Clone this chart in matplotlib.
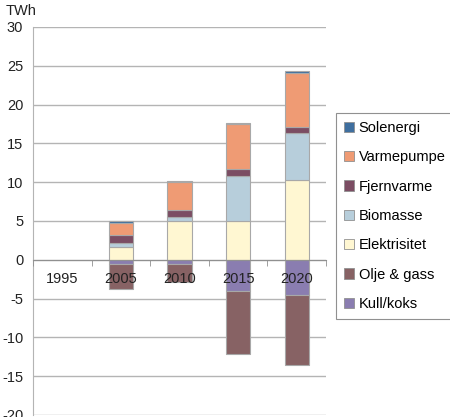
import numpy as np
import matplotlib
matplotlib.use('Agg')
import matplotlib.pyplot as plt
from matplotlib.patches import Patch

plt.rcParams['font.family'] = ['Liberation Sans', 'DejaVu Sans']
plt.rcParams['axes.unicode_minus'] = False

years = ['1995', '2005', '2010', '2015', '2020']

# positive contributions (TWh), stacked from bottom
elektrisitet = [0, 1.7, 5.0, 5.05, 10.3]
biomasse = [0, 0.5, 0.5, 5.8, 6.1]
fjernvarme = [0, 1.0, 0.95, 0.85, 0.7]
varmepumpe = [0, 1.6, 3.6, 5.8, 7.0]
solenergi = [0, 0.15, 0.08, 0.15, 0.25]

# negative contributions, stacked downwards from zero
kull_koks = [0, -0.5, -0.5, -4.0, -4.55]
olje_gass = [0, -3.3, -2.4, -8.2, -9.0]

farger = {
    'Solenergi': '#3f6f9f',
    'Varmepumpe': '#ef9b74',
    'Fjernvarme': '#7b4d63',
    'Biomasse': '#b7cedb',
    'Elektrisitet': '#fff7d2',
    'Olje & gass': '#876264',
    'Kull/koks': '#8a7db0',
}

fig = plt.figure(figsize=(4.5, 4.17), dpi=100)
ax = fig.add_axes([33/450, 2/417, (326-33)/450, (415-27)/417])

x = np.arange(len(years))
w = 0.41
kant = '#a8a8a8'

def stable(lag):
    bunn = np.zeros(len(years))
    for navn, v in lag:
        v = np.array(v, dtype=float)
        lw = np.where(v == 0, 0, 0.8)
        ax.bar(x, v, w, bottom=bunn, color=farger[navn], edgecolor=kant, linewidth=lw, zorder=3)
        bunn += v

stable([('Elektrisitet', elektrisitet), ('Biomasse', biomasse), ('Fjernvarme', fjernvarme),
        ('Varmepumpe', varmepumpe), ('Solenergi', solenergi)])
stable([('Kull/koks', kull_koks), ('Olje & gass', olje_gass)])

ax.set_xlim(-0.5, 4.5)
ax.set_ylim(-20, 30)
ax.set_yticks(range(-20, 31, 5))
ax.grid(axis='y', color='#b4b4b4', linewidth=1)
ax.set_axisbelow(True)

for s in ['top', 'right']:
    ax.spines[s].set_visible(False)
ax.spines['left'].set_color('#b4b4b4')
ax.spines['bottom'].set_position(('data', 0))
ax.spines['bottom'].set_color('#909090')
ax.spines['bottom'].set_zorder(4)

ax.set_xticks(x)
ax.set_xticklabels(years)
ax.set_xticks(np.arange(-0.5, 4.6, 1), minor=True)
ax.tick_params(axis='x', which='major', length=0, pad=9, labelsize=10.5, colors='#222222')
ax.tick_params(axis='x', which='minor', length=4, color='#909090')
ax.tick_params(axis='y', length=0, pad=7, labelsize=10.5, colors='#222222')
ax.xaxis.set_zorder(5)

fig.text(6/450, 1 - 11/417, 'TWh', fontsize=10.5, va='center', ha='left', color='#222222')

rekkefolge = ['Solenergi', 'Varmepumpe', 'Fjernvarme', 'Biomasse', 'Elektrisitet', 'Olje & gass', 'Kull/koks']
handles = [Patch(facecolor=farger[n], edgecolor='#909090', linewidth=0.6) for n in rekkefolge]
leg = fig.legend(handles, rekkefolge, loc='upper left', bbox_to_anchor=(336/450, 1 - 113/417),
                 borderaxespad=0, fontsize=10.5, fancybox=False, edgecolor='#909090',
                 handlelength=0.7, handleheight=0.7, handletextpad=0.3, labelspacing=1.05,
                 borderpad=0.55, framealpha=1)
leg.get_frame().set_linewidth(0.8)

fig.savefig('out.png', dpi=100)
